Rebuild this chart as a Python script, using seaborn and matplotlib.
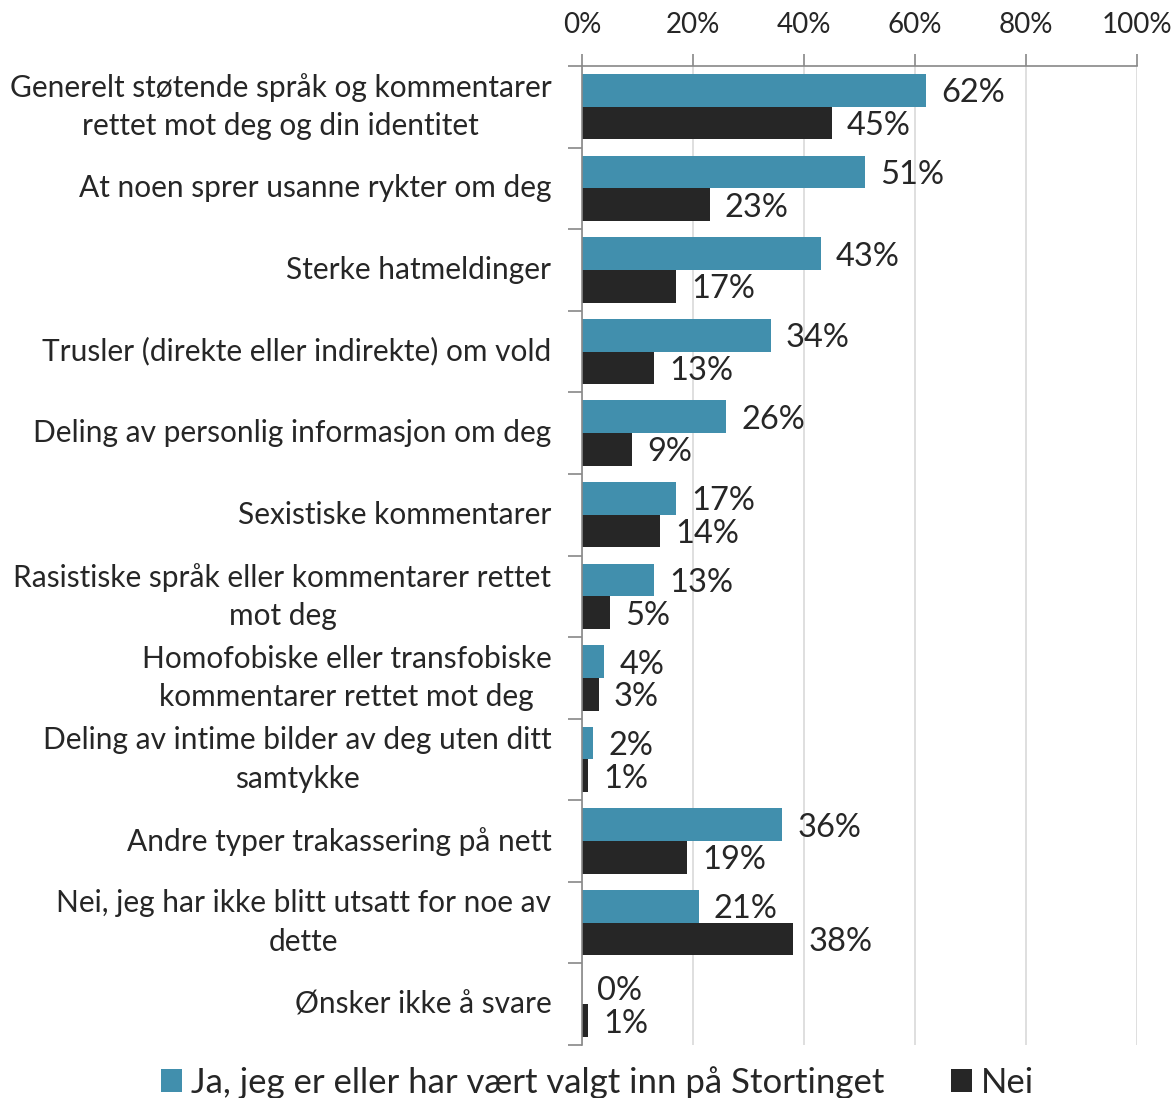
import matplotlib
matplotlib.use("Agg")
import matplotlib.pyplot as plt
import seaborn as sns
import pandas as pd
import numpy as np
from matplotlib.ticker import FixedLocator, PercentFormatter
from matplotlib.patches import Patch

categories = [
    "Generelt støtende språk og kommentarer\nrettet mot deg og din identitet",
    "At noen sprer usanne rykter om deg",
    "Sterke hatmeldinger",
    "Trusler (direkte eller indirekte) om vold",
    "Deling av personlig informasjon om deg",
    "Sexistiske kommentarer",
    "Rasistiske språk eller kommentarer rettet\nmot deg",
    "Homofobiske eller transfobiske\nkommentarer rettet mot deg",
    "Deling av intime bilder av deg uten ditt\nsamtykke",
    "Andre typer trakassering på nett",
    "Nei, jeg har ikke blitt utsatt for noe av\ndette",
    "Ønsker ikke å svare",
]
series_names = ["Ja, jeg er eller har vært valgt inn på Stortinget", "Nei"]
ja_values = [62, 51, 43, 34, 26, 17, 13, 4, 2, 36, 21, 0]
nei_values = [45, 23, 17, 13, 9, 14, 5, 3, 1, 19, 38, 1]
x_ticks = [0, 20, 40, 60, 80, 100]

colors = ["#418FAD", "#262626"]

df = pd.DataFrame({
    "kategori": categories * 2,
    "verdi": ja_values + nei_values,
    "gruppe": [series_names[0]] * len(categories) + [series_names[1]] * len(categories),
})

sns.set_theme(style="white")
plt.rcParams["font.family"] = ["Lato", "DejaVu Sans"]

fig = plt.figure(figsize=(11.76, 10.98), dpi=100)
ax = fig.add_axes([582 / 1176, 1 - 1045 / 1098, 555 / 1176, (1045 - 66) / 1098])

sns.barplot(data=df, y="kategori", x="verdi", hue="gruppe", orient="h",
            palette=colors, width=0.8, saturation=1, ax=ax, legend=False,
            linewidth=0)

ax.set_xlim(0, 100)
ax.set_ylim(len(categories) - 0.5, -0.5)
ax.set_xlabel("")
ax.set_ylabel("")

# x axis on top
ax.xaxis.set_ticks_position("top")
ax.xaxis.set_label_position("top")
ax.set_xticks(x_ticks)
ax.xaxis.set_major_formatter(PercentFormatter(decimals=0))
ax.tick_params(axis="x", which="major", length=9, width=1.2, color="#888888",
               labelsize=20, pad=11, labelcolor="#262626", direction="out")
ax.grid(axis="x", color="#d9d9d9", linewidth=1.2)
ax.set_axisbelow(True)

# y axis
ax.tick_params(axis="y", which="major", length=0, labelsize=21.5, pad=22, labelcolor="#262626")
ax.yaxis.set_minor_locator(FixedLocator(np.arange(-0.5, len(categories), 1.0)))
ax.tick_params(axis="y", which="minor", length=10, width=1.2, color="#888888", direction="out", left=True)
for lbl in ax.get_yticklabels():
    lbl.set_multialignment("center")
    lbl.set_linespacing(1.45)
    lbl.set_verticalalignment("center")

for side in ["right", "bottom"]:
    ax.spines[side].set_visible(False)
for side in ["left", "top"]:
    ax.spines[side].set_color("#888888")
    ax.spines[side].set_linewidth(1.2)

# value labels
for cont in ax.containers:
    texts = ax.bar_label(cont, labels=[f"{int(v)}%" for v in cont.datavalues],
                         padding=11, fontsize=23.5, color="#262626")
    for t in texts:
        t.set_verticalalignment("center_baseline")

handles = [Patch(facecolor=c, edgecolor="none") for c in colors]
fig.legend(handles, series_names, loc="lower center", bbox_to_anchor=(0.508, -0.029),
           ncol=2, frameon=False, fontsize=25, handlelength=0.63, handleheight=0.63,
           handletextpad=0.25, columnspacing=1.9)

fig.savefig("out.png", dpi=100)
